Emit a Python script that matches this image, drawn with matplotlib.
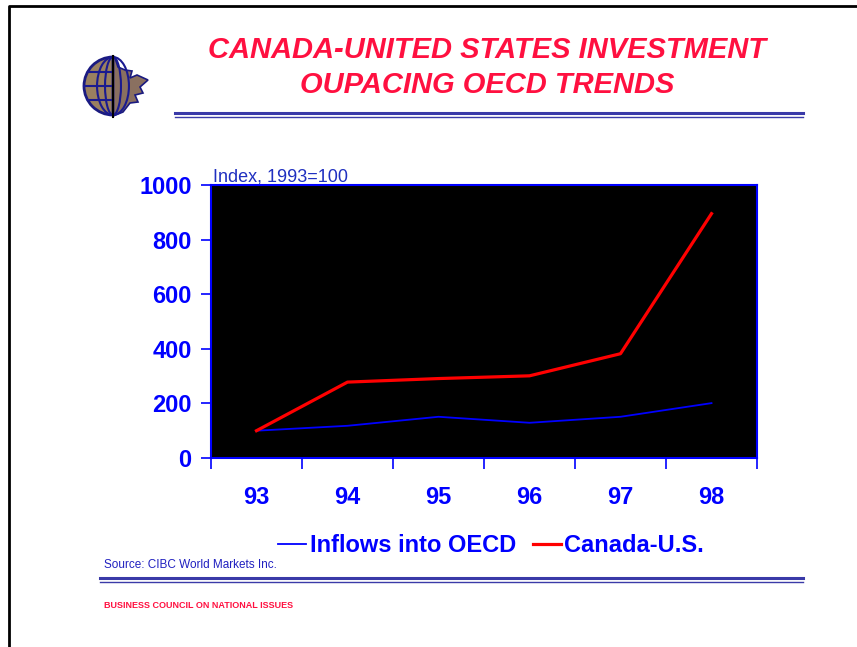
import matplotlib
matplotlib.use("Agg")
import matplotlib.pyplot as plt
from matplotlib.patches import Wedge, Polygon, Ellipse
import numpy as np

plt.rcParams["font.family"] = ["Liberation Sans", "DejaVu Sans"]

years = ["93", "94", "95", "96", "97", "98"]
oecd_inflows = [100, 118, 151, 129, 151, 201]
canada_us = [100, 278, 291, 301, 382, 895]
y_ticks = [0, 200, 400, 600, 800, 1000]

BLUE = "#0000ff"
RED = "#ff0000"
TITLE_RED = "#ff1040"
RULE = "#3a3aa8"

W, H = 857, 647
fig = plt.figure(figsize=(W / 100, H / 100), dpi=100)

# page layer in pixel coordinates for frame, rules, logo and captions
page = fig.add_axes([0, 0, 1, 1])
page.set_xlim(0, W)
page.set_ylim(H, 0)
page.axis("off")

page.plot([9, 9, W], [H, 6, 6], color="black", lw=2.0, solid_capstyle="butt")

page.text(487, 50, "CANADA-UNITED STATES INVESTMENT", color=TITLE_RED,
          fontsize=21, fontweight="bold", fontstyle="italic",
          ha="center", va="center")
page.text(487, 85, "OUPACING OECD TRENDS", color=TITLE_RED,
          fontsize=21, fontweight="bold", fontstyle="italic",
          ha="center", va="center")

for y, lw in ((113, 2.2), (116.5, 1.0)):
    page.plot([175, 803], [y, y], color=RULE, lw=lw)
for y, lw in ((578, 2.2), (581.5, 1.0)):
    page.plot([100, 803], [y, y], color=RULE, lw=lw)

# logo: half globe plus half maple leaf
cx, cy, r = 113, 86, 29
page.add_patch(Wedge((cx, cy), r, 90, 270, facecolor="#9a8060",
                     edgecolor="#1a1a80", lw=2.0, zorder=3))
for w in (r * 1.1, r * 0.55):
    page.add_patch(Ellipse((cx, cy), w, 2 * r, fill=False,
                           edgecolor="#1a1a90", lw=1.5, zorder=4))
for dy in (-14, 0, 14):
    half = np.sqrt(r ** 2 - dy ** 2)
    page.plot([cx - half, cx], [cy + dy, cy + dy], color="#1a1a90",
              lw=1.5, zorder=4)
page.add_patch(Polygon([(cx, 57), (115, 58), (118, 67), (125, 70), (132, 71),
                        (130, 78), (137, 75), (148, 80), (140, 87), (143, 93),
                        (135, 95), (138, 102), (130, 103), (123, 112),
                        (cx, 116)], closed=True, facecolor="#8a7060",
                       edgecolor="#1a1a80", lw=1.2, zorder=2))
page.plot([cx, cx], [56, 117], color="black", lw=1.5, zorder=5)

page.text(104, 565, "Source: CIBC World Markets Inc.", color="#2020c0",
          fontsize=8.5, ha="left", va="center")
page.text(104, 606, "BUSINESS COUNCIL ON NATIONAL ISSUES", color=TITLE_RED,
          fontsize=6.5, fontweight="bold", ha="left", va="center")

# chart
ax = fig.add_axes([211 / W, 1 - 458 / H, 546 / W, 273 / H])
ax.set_facecolor("black")
x = np.arange(len(years))
ax.plot(x, oecd_inflows, color=BLUE, lw=1.3, label="Inflows into OECD")
ax.plot(x, canada_us, color=RED, lw=2.3, label="Canada-U.S.")

ax.set_xlim(-0.5, len(years) - 0.5)
ax.set_ylim(0, 1000)
ax.set_yticks(y_ticks)
ax.set_yticklabels([str(v) for v in y_ticks], color=BLUE, fontsize=17,
                   fontweight="bold")
ax.set_xticks(np.arange(-0.5, len(years), 1.0))
ax.set_xticklabels([])
ax.set_xticks(x, minor=True)
ax.set_xticklabels(years, minor=True, color=BLUE, fontsize=17,
                   fontweight="bold")
ax.tick_params(axis="x", which="major", direction="out", length=8,
               color=BLUE, width=1.2)
ax.tick_params(axis="x", which="minor", length=0, pad=20)
ax.tick_params(axis="y", direction="out", length=7, color=BLUE, width=1.2,
               pad=7)
for s in ax.spines.values():
    s.set_color(BLUE)
    s.set_linewidth(1.5)

ax.text(0.004, 1.0, "Index, 1993=100", transform=ax.transAxes,
        color="#2030c0", fontsize=13, ha="left", va="bottom")

leg = fig.legend(loc="center", bbox_to_anchor=(491 / W, 1 - 546 / H),
                 ncol=2, frameon=False, handlelength=1.2, handletextpad=0.15,
                 columnspacing=0.7, prop={"size": 17, "weight": "bold"})
for t in leg.get_texts():
    t.set_color(BLUE)

fig.savefig("out.png", dpi=100)
